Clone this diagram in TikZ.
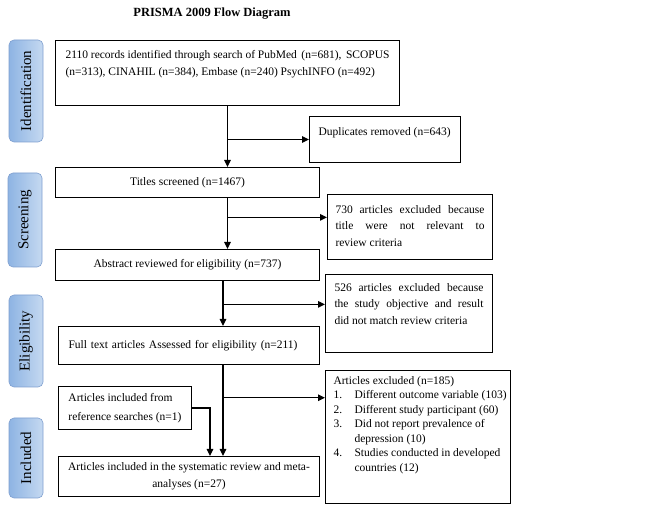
\documentclass[tikz,border=0pt]{standalone}
\usepackage{fontspec}
\setmainfont{Liberation Serif}
\usetikzlibrary{arrows.meta,positioning,calc}
\definecolor{phasedark}{HTML}{8EB4E3}
\definecolor{phaselight}{HTML}{C5D9F1}
\definecolor{phaseline}{HTML}{7F9FCF}
\tikzset{
  heading/.style={font=\bfseries\fontsize{12.5}{15}\selectfont},
  phase/.style={rotate=90,rounded corners=5pt,draw=phaseline,line width=0.6pt,left color=phasedark,right color=phaselight,minimum height=34pt,inner sep=0pt,font=\fontsize{15}{18}\selectfont},
  box/.style={draw=black,line width=1pt,anchor=north west,inner xsep=9pt,inner ysep=0pt,font=\fontsize{11.5}{16.5}\selectfont},
  arr/.style={-{Triangle[length=7pt,width=6.5pt]},line width=1.1pt}
}

\begin{document}
\begin{tikzpicture}[x=1pt,y=1pt]
\path[use as bounding box] (0,0) rectangle (645,508);
\node[heading] (title) at (212,494) {PRISMA 2009 Flow Diagram};

% phases
\node[phase,minimum width=102pt] (ident) at (26,417) {Identification};
\node[phase,minimum width=94pt] (screen) at (25,288) {Screening};
\node[phase,minimum width=92pt] (elig) at (26,167) {Eligibility};
\node[phase,minimum width=80pt] (incl) at (26,50) {Included};

% main boxes
\node[box,inner xsep=10pt,minimum width=344pt,minimum height=65pt] (search) at (55,468) {\parbox[c][45pt][t]{324pt}{2110 records identified through search of PubMed\hfill(n=681),\hfill SCOPUS\\(n=313), CINAHIL (n=384), Embase (n=240) PsychINFO (n=492)}};
\node[box,minimum width=264pt,minimum height=30pt] (titles) at (55,341) {Titles screened (n=1467)};
\node[box,minimum width=264pt,minimum height=31pt] (abstract) at (55,259) {Abstract reviewed for eligibility (n=737)};
\node[box,inner xsep=10pt,text width=241pt,align=left,minimum height=38pt] (fulltext) at (58,182) {Full text articles Assessed for eligibility (n=211)};
\node[box,align=left,minimum width=133pt,minimum height=43pt,font=\fontsize{11.5}{19}\selectfont] (refs) at (58,122) {Articles included from\\reference searches (n=1)};
\node[box,align=center,minimum width=261pt,minimum height=40pt,font=\fontsize{11.5}{17}\selectfont] (final) at (58,52) {Articles included in the systematic review and meta-\\analyses (n=27)};

% exclusion boxes
\node[box,minimum width=151pt,minimum height=46pt] (dup) at (309,392) {\parbox[c][24pt][t]{133pt}{Duplicates removed (n=643)}};
\node[box,inner xsep=8pt,minimum width=165pt,minimum height=65pt] (excl1) at (327,314) {\parbox[c][43pt][t]{149pt}{730 articles excluded because\linebreak title were not relevant to\linebreak review criteria}};
\node[box,minimum width=167pt,minimum height=78pt] (excl2) at (325,234) {\parbox[c][60pt][t]{149pt}{526 articles excluded because\linebreak the study objective and result\linebreak did not match review criteria}};
\node[box,inner xsep=8pt,minimum width=185pt,minimum height=133pt,font=\fontsize{11.5}{14.5}\selectfont] (excl3) at (325,138) {\parbox[c][121pt][t]{169pt}{\raggedright
\mbox{Articles excluded (n=185)}\\
\mbox{\makebox[21pt][l]{1.}Different outcome variable (103)}\\
\mbox{\makebox[21pt][l]{2.}Different study participant (60)}\\
\mbox{\makebox[21pt][l]{3.}Did not report prevalence of}\\
\mbox{\hspace*{21pt}depression (10)}\\
\mbox{\makebox[21pt][l]{4.}Studies conducted in developed}\\
\mbox{\hspace*{21pt}countries (12)}}};

% flow
\coordinate (spine) at (223,0);
\draw[arr] (search.south) -- (search.south |- titles.north);
\draw[arr] (search.south |- dup.west) -- (dup.west);
\draw[arr] (titles.south -| search.south) -- (abstract.north -| search.south);
\coordinate (cut1) at ($(titles.south -| search.south)!0.38!(abstract.north -| search.south)$);
\draw[arr] (cut1) -- (cut1 -| excl1.west);
\draw[arr] (abstract.south -| spine) -- (fulltext.north -| spine);
\coordinate (cut2) at ($(abstract.south -| spine)!0.52!(fulltext.north -| spine)$);
\draw[arr] (cut2) -- (cut2 -| excl2.west);
\draw[arr] (fulltext.south -| spine) -- (final.north -| spine);
\coordinate (cut3) at ($(fulltext.south -| spine)!0.36!(final.north -| spine)$);
\draw[arr] (cut3) -- (cut3 -| excl3.west);
\coordinate (join) at (210,0);
\draw[arr] (refs.east) -| (join |- final.north);
\end{tikzpicture}
\end{document}
